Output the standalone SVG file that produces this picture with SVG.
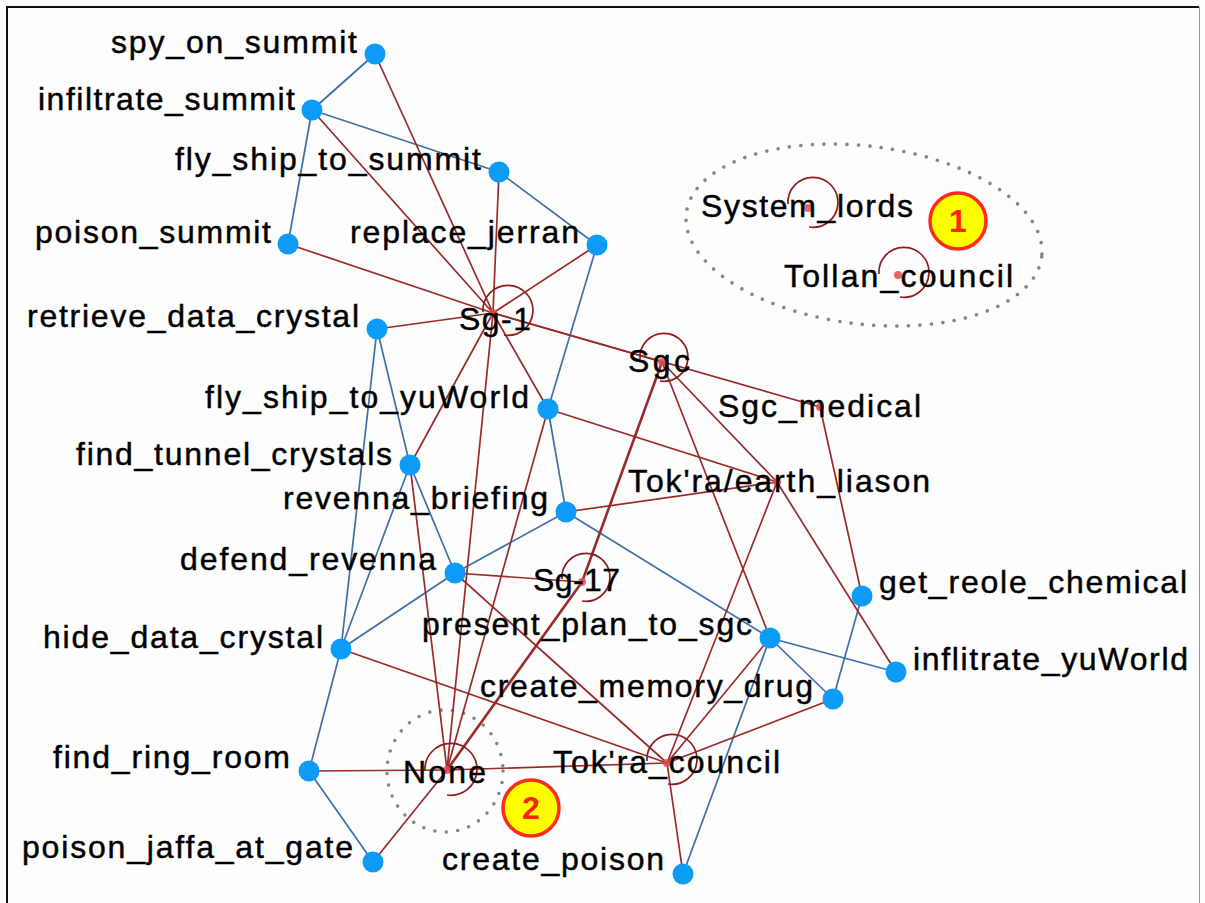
<svg xmlns="http://www.w3.org/2000/svg" width="1205" height="903" viewBox="0 0 1205 903">
<defs>
<style>
.bg{fill:#fdfdfd}
.er{stroke:#9a2a2a;stroke-width:1.7;fill:none}
.eb{stroke:#3d6fa8;stroke-width:1.7;fill:none}
.thick{stroke-width:2.6}
.loop{stroke:#8e1c1c;stroke-width:1.7;fill:none}
.n{fill:#0c9bf7}
.gd{fill:#e34b4b;opacity:0.85}
.lbl{font-family:"Liberation Sans",Arial,sans-serif;font-size:32px;fill:#000;stroke:#000;stroke-width:0.45}
.dotted{fill:none;stroke:#858585;stroke-width:3.6;stroke-linecap:round;stroke-dasharray:0 11.5}
.badge{fill:#ffff00;stroke:#ff2a1a;stroke-width:3.5}
.bnum{font-family:"Liberation Sans",Arial,sans-serif;font-size:32px;font-weight:bold;fill:#ff2010;text-anchor:middle}
</style>
</defs>
<rect class="bg" x="0" y="0" width="1205" height="903"/>
<path d="M7 903 V7 H1199" fill="none" stroke="#111" stroke-width="2"/>
<line x1="1199.5" y1="7" x2="1199.5" y2="903" stroke="#999" stroke-width="1"/>

<g id="annotations">
<ellipse class="dotted" cx="864" cy="235" rx="179" ry="89" transform="rotate(7 864 235)"/>
<ellipse class="dotted" cx="445" cy="771" rx="58" ry="61"/>
</g>

<g id="connectors">
<!-- blue -->
<line class="eb" x1="375" y1="54" x2="312" y2="110"/>
<line class="eb" x1="312" y1="110" x2="288" y2="244"/>
<line class="eb" x1="312" y1="110" x2="499" y2="172"/>
<line class="eb" x1="499" y1="172" x2="597" y2="245"/>
<line class="eb" x1="597" y1="245" x2="548" y2="409"/>
<line class="eb" x1="548" y1="409" x2="566" y2="512"/>
<line class="eb" x1="377" y1="329" x2="341" y2="649"/>
<line class="eb" x1="377" y1="329" x2="410" y2="465"/>
<line class="eb" x1="410" y1="465" x2="455" y2="573"/>
<line class="eb" x1="410" y1="465" x2="341" y2="649"/>
<line class="eb" x1="341" y1="649" x2="455" y2="573"/>
<line class="eb" x1="455" y1="573" x2="566" y2="512"/>
<line class="eb" x1="566" y1="512" x2="770" y2="638"/>
<line class="eb" x1="770" y1="638" x2="896" y2="672"/>
<line class="eb" x1="770" y1="638" x2="833" y2="699"/>
<line class="eb" x1="770" y1="638" x2="683" y2="874"/>
<line class="eb" x1="862" y1="596" x2="833" y2="699"/>
<line class="eb" x1="341" y1="649" x2="309" y2="771"/>
<line class="eb" x1="309" y1="771" x2="373" y2="862"/>
<!-- red -->
<line class="er" x1="493" y1="313" x2="375" y2="54"/>
<line class="er" x1="493" y1="313" x2="312" y2="110"/>
<line class="er" x1="493" y1="313" x2="499" y2="172"/>
<line class="er" x1="493" y1="313" x2="288" y2="244"/>
<line class="er" x1="493" y1="313" x2="597" y2="245"/>
<line class="er" x1="493" y1="313" x2="377" y2="329"/>
<line class="er" x1="493" y1="313" x2="548" y2="409"/>
<line class="er" x1="493" y1="313" x2="410" y2="465"/>
<line class="er" x1="493" y1="313" x2="447" y2="770"/>
<line class="er" x1="493" y1="313" x2="662" y2="362"/>
<line class="er" x1="493" y1="313" x2="820" y2="407"/>
<line class="er" x1="662" y1="362" x2="777" y2="482"/>
<line class="er" x1="662" y1="362" x2="770" y2="638"/>
<line class="er thick" x1="662" y1="362" x2="582" y2="582"/>
<line class="er" x1="820" y1="407" x2="862" y2="596"/>
<line class="er" x1="777" y1="482" x2="548" y2="409"/>
<line class="er" x1="777" y1="482" x2="566" y2="512"/>
<line class="er" x1="777" y1="482" x2="667" y2="763"/>
<line class="er" x1="777" y1="482" x2="896" y2="672"/>
<line class="er thick" x1="582" y1="582" x2="447" y2="770"/>
<line class="er" x1="582" y1="582" x2="455" y2="573"/>
<line class="er" x1="447" y1="770" x2="410" y2="465"/>
<line class="er" x1="447" y1="770" x2="548" y2="409"/>
<line class="er" x1="447" y1="770" x2="309" y2="771"/>
<line class="er" x1="447" y1="770" x2="373" y2="862"/>
<line class="er" x1="447" y1="770" x2="667" y2="763"/>
<line class="er" x1="667" y1="763" x2="341" y2="649"/>
<line class="er" x1="667" y1="763" x2="455" y2="573"/>
<line class="er" x1="667" y1="763" x2="770" y2="638"/>
<line class="er" x1="667" y1="763" x2="833" y2="699"/>
<line class="er" x1="667" y1="763" x2="683" y2="874"/>
<!-- self loops -->
<path class="loop" d="M483 312 A25 25 0 1 1 504 335"/>
<path class="loop" d="M640 359 A24 24 0 1 1 660 381"/>
<path class="loop" d="M562 579 A24 24 0 1 1 582 601"/>
<path class="loop" d="M425 771 A26 26 0 1 1 447 795"/>
<path class="loop" d="M647 761 A25 25 0 1 1 668 784"/>
<path class="loop" d="M788 204 A25 25 0 1 1 809 227"/>
<path class="loop" d="M879 274 A25 25 0 1 1 900 297"/>
</g>

<g id="n-spy_on_summit"><circle class="n" cx="375" cy="54" r="10.5"/><text class="lbl" x="111" y="53" textLength="246">spy_on_summit</text></g>
<g id="n-infiltrate_summit"><circle class="n" cx="312" cy="110" r="10.5"/><text class="lbl" x="38" y="110" textLength="257">infiltrate_summit</text></g>
<g id="n-fly_ship_to_summit"><circle class="n" cx="499" cy="172" r="10.5"/><text class="lbl" x="175" y="170" textLength="306">fly_ship_to_summit</text></g>
<g id="n-poison_summit"><circle class="n" cx="288" cy="244" r="10.5"/><text class="lbl" x="35" y="243" textLength="236">poison_summit</text></g>
<g id="n-replace_jerran"><circle class="n" cx="597" cy="245" r="10.5"/><text class="lbl" x="350" y="243" textLength="229">replace_jerran</text></g>
<g id="n-retrieve_data_crystal"><circle class="n" cx="377" cy="329" r="10.5"/><text class="lbl" x="27" y="327" textLength="332">retrieve_data_crystal</text></g>
<g id="n-fly_ship_to_yuWorld"><circle class="n" cx="548" cy="409" r="10.5"/><text class="lbl" x="205" y="408" textLength="324">fly_ship_to_yuWorld</text></g>
<g id="n-find_tunnel_crystals"><circle class="n" cx="410" cy="465" r="10.5"/><text class="lbl" x="76" y="465" textLength="316">find_tunnel_crystals</text></g>
<g id="n-revenna_briefing"><circle class="n" cx="566" cy="512" r="10.5"/><text class="lbl" x="283" y="509" textLength="265">revenna_briefing</text></g>
<g id="n-defend_revenna"><circle class="n" cx="455" cy="573" r="10.5"/><text class="lbl" x="180" y="570" textLength="256">defend_revenna</text></g>
<g id="n-get_reole_chemical"><circle class="n" cx="862" cy="596" r="10.5"/><text class="lbl" x="879" y="593" textLength="308">get_reole_chemical</text></g>
<g id="n-hide_data_crystal"><circle class="n" cx="341" cy="649" r="10.5"/><text class="lbl" x="43" y="648" textLength="280">hide_data_crystal</text></g>
<g id="n-present_plan_to_sgc"><circle class="n" cx="770" cy="638" r="10.5"/><text class="lbl" x="422" y="635" textLength="330">present_plan_to_sgc</text></g>
<g id="n-inflitrate_yuWorld"><circle class="n" cx="896" cy="672" r="10.5"/><text class="lbl" x="913" y="670" textLength="275">inflitrate_yuWorld</text></g>
<g id="n-create_memory_drug"><circle class="n" cx="833" cy="699" r="10.5"/><text class="lbl" x="480" y="697" textLength="333">create_memory_drug</text></g>
<g id="n-find_ring_room"><circle class="n" cx="309" cy="771" r="10.5"/><text class="lbl" x="53" y="768" textLength="237">find_ring_room</text></g>
<g id="n-poison_jaffa_at_gate"><circle class="n" cx="373" cy="862" r="10.5"/><text class="lbl" x="22" y="858" textLength="331">poison_jaffa_at_gate</text></g>
<g id="n-create_poison"><circle class="n" cx="683" cy="874" r="10.5"/><text class="lbl" x="442" y="870" textLength="222">create_poison</text></g>

<g id="n-Sg-1"><circle class="gd" cx="493" cy="313" r="4"/><text class="lbl" x="459" y="330" textLength="72">Sg-1</text></g>
<g id="n-Sgc"><circle class="gd" cx="662" cy="362" r="4"/><text class="lbl" x="628" y="372" textLength="62">Sgc</text></g>
<g id="n-Sgc_medical"><circle class="gd" cx="820" cy="407" r="4"/><text class="lbl" x="718" y="417" textLength="203">Sgc_medical</text></g>
<g id="n-Tokra_earth_liason"><circle class="gd" cx="777" cy="482" r="4"/><text class="lbl" x="628" y="492" textLength="302">Tok'ra/earth_liason</text></g>
<g id="n-Sg-17"><circle class="gd" cx="582" cy="582" r="4"/><text class="lbl" x="533" y="591" textLength="87">Sg-17</text></g>
<g id="n-None"><circle class="gd" cx="447" cy="770" r="4"/><text class="lbl" x="403" y="783" textLength="83">None</text></g>
<g id="n-Tokra_council"><circle class="gd" cx="667" cy="763" r="4"/><text class="lbl" x="553" y="773" textLength="227">Tok'ra_council</text></g>
<g id="n-System_lords"><circle class="gd" cx="808" cy="208" r="4"/><text class="lbl" x="701" y="217" textLength="212">System_lords</text></g>
<g id="n-Tollan_council"><circle class="gd" cx="898" cy="275" r="4"/><text class="lbl" x="784" y="287" textLength="229">Tollan_council</text></g>

<g id="badge-1"><circle class="badge" cx="958" cy="221" r="28"/><text class="bnum" x="958" y="232">1</text></g>
<g id="badge-2"><circle class="badge" cx="531" cy="808" r="28"/><text class="bnum" x="531" y="819">2</text></g>
</svg>
